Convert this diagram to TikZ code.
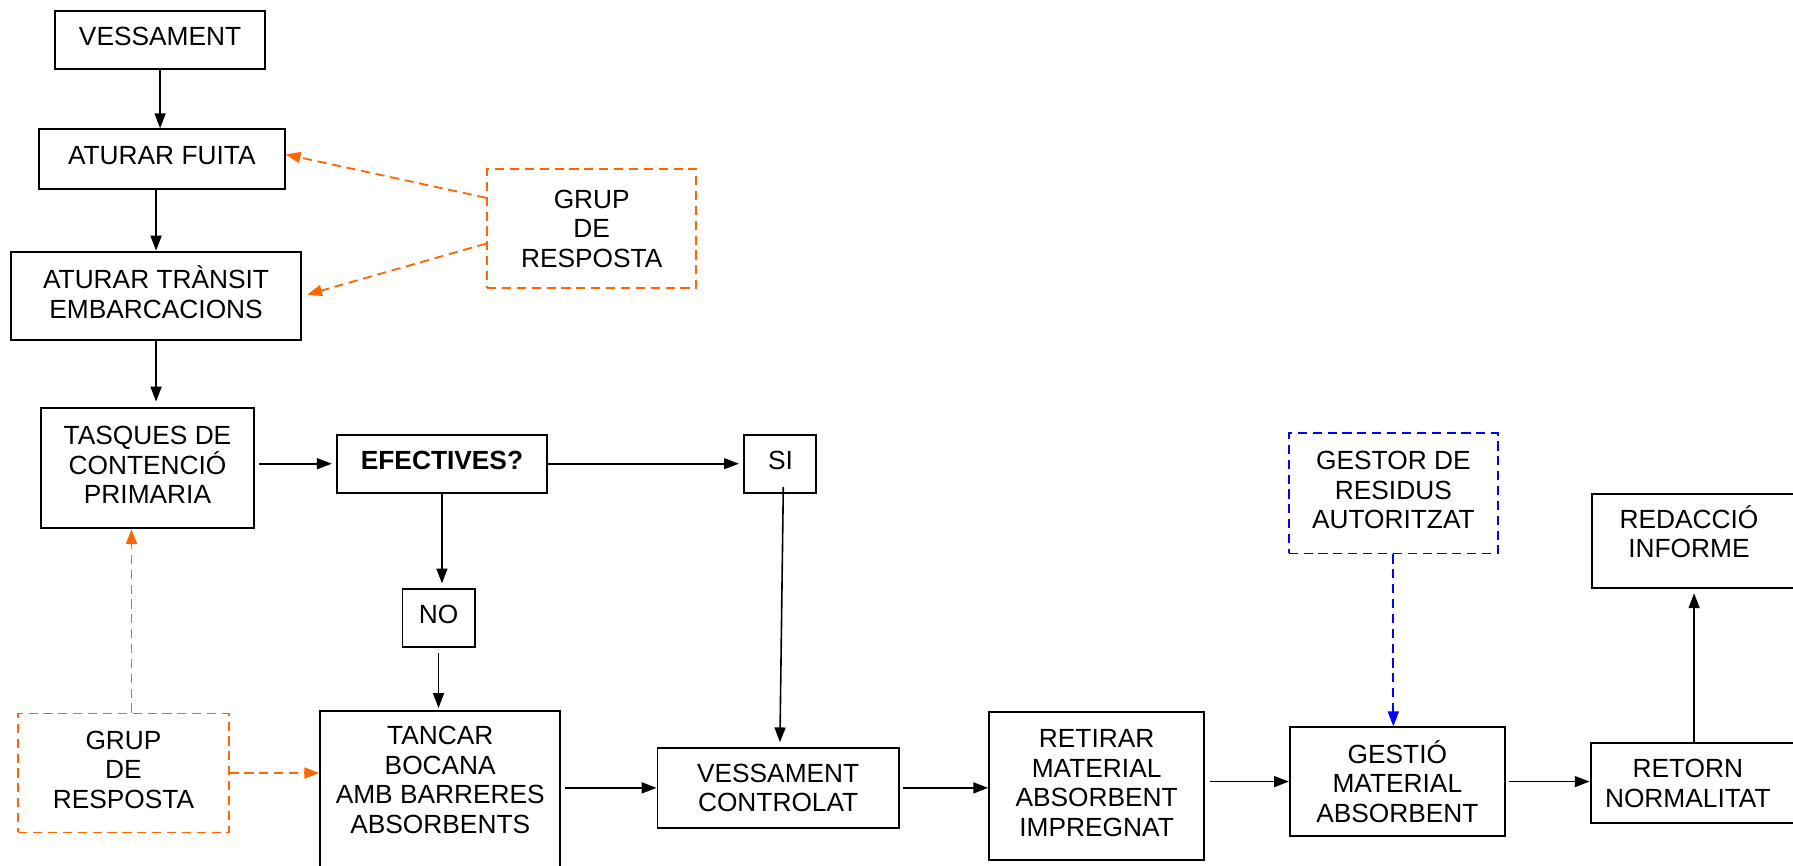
\documentclass[tikz,border=0pt]{standalone}
\usepackage{fontspec}
\setmainfont{Liberation Sans}
\usetikzlibrary{arrows.meta,calc}
\definecolor{orng}{RGB}{255,102,0}
\definecolor{blu}{RGB}{0,0,255}
\begin{document}
\begin{tikzpicture}[x=0.5pt,y=-0.5pt,
  font=\fontsize{11.5}{12.9}\selectfont,
  sz/.style 2 args={minimum width={#1*0.5pt}, minimum height={#2*0.5pt}},
  box/.style={draw=black, line width=0.85pt, inner sep=0pt, align=center, text depth=3pt},
  obox/.style={draw=orng, line width=0.8pt, dash pattern=on 4pt off 2.5pt, inner sep=0pt, align=center, text depth=3pt},
  bbox/.style={draw=blu, line width=0.8pt, dash pattern=on 4pt off 2.5pt, inner sep=0pt, align=center, text depth=3pt},
  natural/.style={text depth=},
  txt/.style={inner sep=0pt, align=center},
  arr/.style={draw=black, line width=0.7pt, -{Triangle[length=6.5pt,width=4.8pt]}},
  oarr/.style={draw=orng, line width=0.8pt, dash pattern=on 4pt off 2.5pt, -{Triangle[length=6.5pt,width=4.8pt]}},
  barr/.style={draw=blu, line width=0.8pt, dash pattern=on 4pt off 2.5pt, -{Triangle[length=6.5pt,width=4.8pt]}}
]
\path[use as bounding box] (0,0) rectangle (1568,757);
\clip (0,0) rectangle (1568,757);

% nodes
\node[box, sz={184}{50}] (v1) at (140,35) {VESSAMENT};
\node[box, sz={215}{52}] (fuita) at (141.5,139) {ATURAR FUITA};
\node[box, sz={253}{77}] (transit) at (136.5,258.5) {ATURAR TRÀNSIT\\EMBARCACIONS};
\node[box, sz={186}{105}] (tasques) at (129,409.5) {TASQUES DE\\CONTENCIÓ\\PRIMARIA};
\node[box, sz={183}{51}] (efect) at (386.5,405.5) {\bfseries EFECTIVES?};
\node[box, sz={63}{51}] (si) at (682.5,405.5) {SI};
\node[box, sz={63}{51}] (no) at (383.5,540.5) {NO};
\node[obox, natural, sz={183}{104}] (grup1) at (517.5,200) {GRUP\\DE\\RESPOSTA};
\node[obox, sz={184}{104}] (grup2) at (108,676) {GRUP\\DE\\RESPOSTA};
\node[box, sz={210}{168}] (tancar) at (385,706) {};
\node[txt] (tancartxt) at (385,682) {TANCAR\\BOCANA\\AMB BARRERES\\ABSORBENTS};
\node[box, natural, sz={211}{70}] (vc) at (680.5,689) {VESSAMENT\\CONTROLAT};
\node[box, sz={188}{129}] (retirar) at (959,687.5) {RETIRAR\\MATERIAL\\ABSORBENT\\IMPREGNAT};
\node[box, natural, sz={188}{95}] (gestio) at (1222,683.5) {GESTIÓ\\MATERIAL\\ABSORBENT};
\node[box, sz={181}{70}] (retorn) at (1481.5,685) {};
\node[txt] (retorntxt) at (1476,685) {RETORN\\NORMALITAT};
\node[box, sz={180}{82}] (redaccio) at (1482,473) {};
\node[txt] (redacciotxt) at (1477,465) {REDACCIÓ\\INFORME};
\node[bbox, sz={183}{105}] (gestor) at (1218.5,431.5) {GESTOR DE\\RESIDUS\\AUTORITZAT};

% black connectors
\draw[arr] (v1.south) -- (v1.south |- fuita.north);
\draw[arr] (fuita.south -| transit.north) -- (transit.north);
\draw[arr, shorten >=2.5pt] (transit.south) -- (transit.south |- tasques.north);
\draw[arr, shorten <=2pt, shorten >=2pt] (efect.west -| tasques.east) -- (efect.west);
\draw[arr, shorten >=2pt] (efect.east) -- (si.west);
\draw[arr, shorten >=2pt] (efect.south) -- (efect.south |- no.north);
\draw[arr, shorten <=2pt, shorten >=1pt] (no.south) -- (no.south |- tancar.north);
\coordinate (sistart) at ($(si.south)+(2.5,-6)$);
\coordinate (vcin) at ($(vc.north)+(1.5,0)$);
\draw[arr, shorten >=2pt] (sistart) -- (vcin);
\draw[arr, shorten <=1.5pt] (vc.west -| tancar.east) -- (vc.west);
\draw[arr, shorten <=1.5pt] (vc.east) -- (vc.east -| retirar.west);
\draw[arr, shorten <=2pt] (gestio.west -| retirar.east) -- (gestio.west);
\draw[arr, shorten <=1.5pt] (gestio.east) -- (gestio.east -| retorn.west);
\draw[arr, shorten >=2pt] (retorn.north) -- (retorn.north |- redaccio.south);

% orange connectors
\draw[oarr] ($(grup1.west)+(0,-27)$) -- ($(fuita.east)+(0,-4)$);
\draw[oarr, shorten >=2.5pt] ($(grup1.west)+(0,13)$) -- ($(transit.east)+(0,0.5)$);
\coordinate (g2top) at ($(grup2.north)+(7,0)$);
\draw[oarr] (g2top) -- (g2top |- tasques.south);
\draw[oarr] (grup2.east) -- (grup2.east -| tancar.west);

% blue connector
\draw[barr] (gestor.south) -- (gestor.south |- gestio.north);
\end{tikzpicture}
\end{document}
